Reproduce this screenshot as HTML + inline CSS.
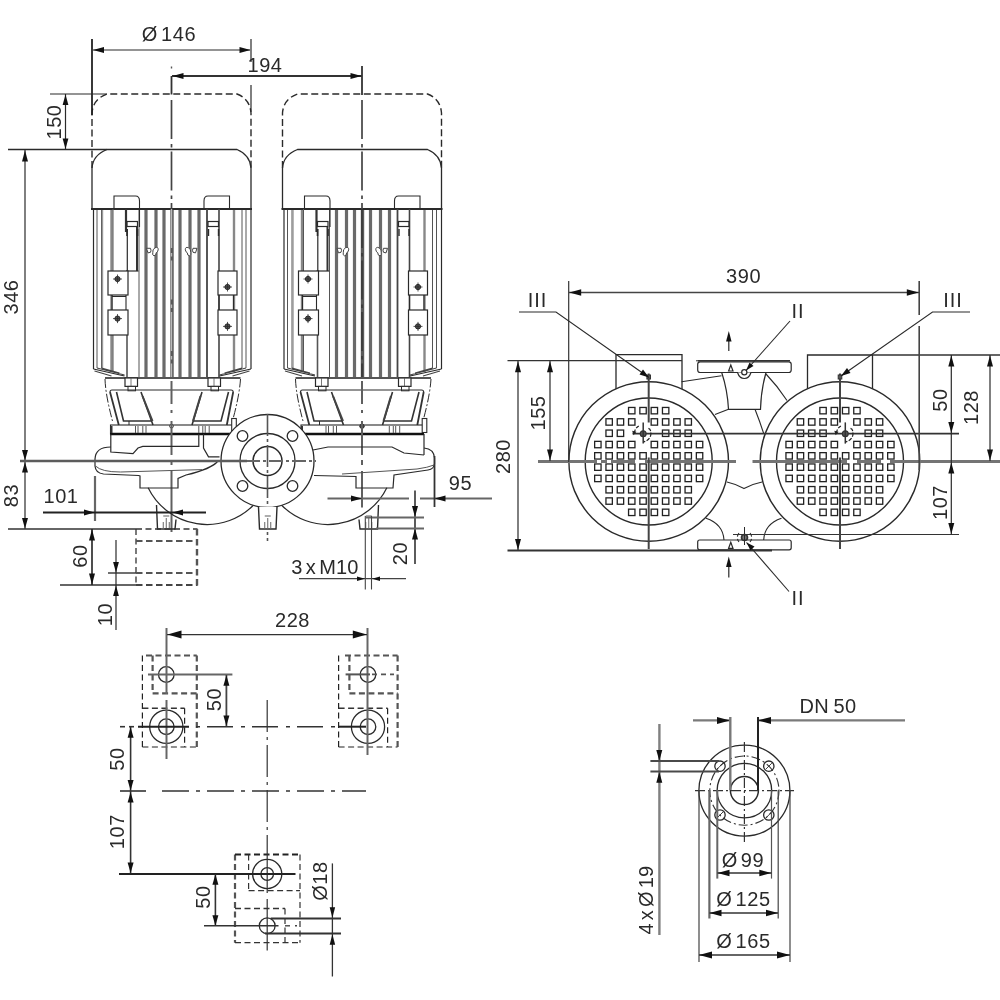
<!DOCTYPE html>
<html><head><meta charset="utf-8"><title>Pump dimension drawing</title>
<style>
html,body{margin:0;padding:0;background:#fff;}
body{width:1000px;height:1000px;overflow:hidden;font-family:"Liberation Sans",sans-serif;}
svg{display:block;will-change:transform;}
svg text{font-family:"Liberation Sans",sans-serif;}
</style></head><body>
<svg width="1000" height="1000" viewBox="0 0 1000 1000">
<rect x="0" y="0" width="1000" height="1000" fill="#fff"/>
<g id="front">
<path d="M92.0,168 L92.0,113 Q93.0,99 107.0,94 L237.0,94 Q250.0,99 251.0,113 L251.0,168" stroke="#2a2a2a" stroke-width="1.4" fill="none" stroke-dasharray="7,3.5"/>
<path d="M92.0,209 L92.0,168 Q93.0,155 107.0,149.5 L237.0,149.5 Q250.0,155 251.0,168 L251.0,209" stroke="#2a2a2a" stroke-width="1.3" fill="none"/>
<line x1="91.0" y1="209" x2="252.0" y2="209" stroke="#2a2a2a" stroke-width="1.8"/>
<path d="M114.0,209 L114.0,196 L135.5,196 Q139.5,196 139.5,201 L139.5,209" stroke="#2a2a2a" stroke-width="1.1" fill="none"/>
<path d="M229.5,209 L229.5,196 L208.0,196 Q204.0,196 204.0,201 L204.0,209" stroke="#2a2a2a" stroke-width="1.1" fill="none"/>
<line x1="93.5" y1="209" x2="93.5" y2="369" stroke="#2a2a2a" stroke-width="1.2"/>
<line x1="251.0" y1="209" x2="251.0" y2="369" stroke="#2a2a2a" stroke-width="1.2"/>
<line x1="97.0" y1="210" x2="97.0" y2="368" stroke="#555" stroke-width="1"/>
<line x1="101.5" y1="210" x2="101.5" y2="368" stroke="#555" stroke-width="1"/>
<line x1="246.0" y1="210" x2="246.0" y2="368" stroke="#555" stroke-width="1"/>
<line x1="242.0" y1="210" x2="242.0" y2="368" stroke="#555" stroke-width="1"/>
<line x1="111.5" y1="210" x2="111.5" y2="372" stroke="#888" stroke-width="2.4"/>
<line x1="234.0" y1="210" x2="234.0" y2="372" stroke="#888" stroke-width="2.4"/>
<line x1="102.5" y1="210" x2="102.5" y2="368" stroke="#999" stroke-width="1.4"/>
<line x1="146.0" y1="210" x2="146.0" y2="377" stroke="#6a6a6a" stroke-width="3.2"/>
<line x1="156.0" y1="210" x2="156.0" y2="377" stroke="#6a6a6a" stroke-width="3.2"/>
<line x1="164.0" y1="210" x2="164.0" y2="377" stroke="#6a6a6a" stroke-width="3.2"/>
<line x1="180.0" y1="210" x2="180.0" y2="377" stroke="#6a6a6a" stroke-width="3.2"/>
<line x1="190.0" y1="210" x2="190.0" y2="377" stroke="#6a6a6a" stroke-width="3.2"/>
<line x1="199.0" y1="210" x2="199.0" y2="377" stroke="#6a6a6a" stroke-width="3.2"/>
<line x1="172.0" y1="210" x2="172.0" y2="377" stroke="#5a5a5a" stroke-width="3.4"/>
<line x1="139.0" y1="210" x2="139.0" y2="377" stroke="#555" stroke-width="1"/>
<line x1="126.0" y1="209" x2="126.0" y2="232" stroke="#333" stroke-width="2.2"/>
<line x1="127.3" y1="229" x2="127.3" y2="271" stroke="#2a2a2a" stroke-width="1.2"/>
<line x1="139.5" y1="209" x2="139.5" y2="227" stroke="#2a2a2a" stroke-width="1.1"/>
<line x1="137.0" y1="227" x2="137.0" y2="271" stroke="#333" stroke-width="2"/>
<line x1="126.0" y1="271" x2="138.5" y2="271" stroke="#2a2a2a" stroke-width="1.2"/>
<rect x="127.0" y="221.5" width="10.5" height="5" rx="0" stroke="#2a2a2a" stroke-width="1.2" fill="none"/>
<line x1="127.0" y1="229" x2="127.0" y2="236" stroke="#2a2a2a" stroke-width="1.6"/>
<line x1="137.5" y1="229" x2="137.5" y2="236" stroke="#2a2a2a" stroke-width="1.6"/>
<line x1="127.0" y1="335" x2="127.0" y2="377" stroke="#555" stroke-width="1.6"/>
<line x1="113.0" y1="335" x2="113.0" y2="372" stroke="#555" stroke-width="1"/>
<line x1="113.0" y1="209" x2="113.0" y2="271" stroke="#555" stroke-width="1"/>
<line x1="207.0" y1="209" x2="207.0" y2="377" stroke="#444" stroke-width="1.8"/>
<line x1="219.0" y1="209" x2="219.0" y2="377" stroke="#444" stroke-width="1.6"/>
<rect x="208.0" y="221.5" width="10.5" height="5" rx="0" stroke="#2a2a2a" stroke-width="1.2" fill="none"/>
<line x1="208.5" y1="229" x2="208.5" y2="236" stroke="#2a2a2a" stroke-width="1.4"/>
<line x1="218.5" y1="229" x2="218.5" y2="236" stroke="#2a2a2a" stroke-width="1.4"/>
<rect x="108.0" y="271" width="20" height="24" rx="0" stroke="#2a2a2a" stroke-width="1.2" fill="#fff"/>
<circle cx="117.5" cy="279" r="2.6" stroke="#2a2a2a" stroke-width="1" fill="#555"/>
<line x1="113.0" y1="279" x2="122.0" y2="279" stroke="#2a2a2a" stroke-width="0.8"/>
<line x1="117.5" y1="274.5" x2="117.5" y2="283.5" stroke="#2a2a2a" stroke-width="0.8"/>
<rect x="108.0" y="310" width="20" height="25" rx="0" stroke="#2a2a2a" stroke-width="1.2" fill="#fff"/>
<circle cx="117.5" cy="318.6" r="2.6" stroke="#2a2a2a" stroke-width="1" fill="#555"/>
<line x1="113.0" y1="318.6" x2="122.0" y2="318.6" stroke="#2a2a2a" stroke-width="0.8"/>
<line x1="117.5" y1="314.1" x2="117.5" y2="323.1" stroke="#2a2a2a" stroke-width="0.8"/>
<path d="M112.0,295 L112.0,310 M126.0,295 L126.0,310 M112.0,296.5 L126.0,296.5" stroke="#2a2a2a" stroke-width="1.1" fill="none"/>
<rect x="218.0" y="271" width="19" height="24" rx="0" stroke="#2a2a2a" stroke-width="1.2" fill="#fff"/>
<circle cx="227.5" cy="287" r="2.6" stroke="#2a2a2a" stroke-width="1" fill="#555"/>
<line x1="223.0" y1="287" x2="232.0" y2="287" stroke="#2a2a2a" stroke-width="0.8"/>
<line x1="227.5" y1="282.5" x2="227.5" y2="291.5" stroke="#2a2a2a" stroke-width="0.8"/>
<rect x="218.0" y="310" width="19" height="25" rx="0" stroke="#2a2a2a" stroke-width="1.2" fill="#fff"/>
<circle cx="227.5" cy="326.4" r="2.6" stroke="#2a2a2a" stroke-width="1" fill="#555"/>
<line x1="223.0" y1="326.4" x2="232.0" y2="326.4" stroke="#2a2a2a" stroke-width="0.8"/>
<line x1="227.5" y1="321.9" x2="227.5" y2="330.9" stroke="#2a2a2a" stroke-width="0.8"/>
<path d="M219.0,295 L219.0,310 M233.5,295 L233.5,310" stroke="#2a2a2a" stroke-width="1.1" fill="none"/>
<path d="M146.5,248.3 l4,0 q1,2 0,4 l-2.5,0.6 Z" stroke="#444" stroke-width="1" fill="#fff"/>
<path d="M155.0,247.8 q3.2,-1.5 3.2,2 q-0.5,2.5 -2,3 q0,3 -2.2,3 q-2,-0.5 -1.2,-3.5 q-0.5,-3 2.2,-4.5 Z" stroke="#444" stroke-width="1" fill="#fff"/>
<path d="M197.0,248.3 l-4,0 q-1,2 0,4 l2.5,0.6 Z" stroke="#444" stroke-width="1" fill="#fff"/>
<path d="M188.5,247.8 q-3.2,-1.5 -3.2,2 q0.5,2.5 2,3 q0,3 2.2,3 q2,-0.5 1.2,-3.5 q0.5,-3 -2.2,-4.5 Z" stroke="#444" stroke-width="1" fill="#fff"/>
<path d="M93.5,369 L124.5,376 M251.0,369 L219.5,376" stroke="#2a2a2a" stroke-width="1.2" fill="none"/>
<path d="M97.0,368 L124.5,375 M101.5,368 L119.5,373 M94.5,371 L111.5,376 M246.0,368 L219.5,375 M242.0,368 L224.5,373 M249.5,371 L232.5,376" stroke="#444" stroke-width="1.1" fill="none"/>
<line x1="105.0" y1="378" x2="240.5" y2="378" stroke="#555" stroke-width="2"/>
<rect x="125.0" y="378" width="12.5" height="8.4" rx="0" stroke="#2a2a2a" stroke-width="1.2" fill="#fff"/>
<line x1="131.0" y1="378" x2="131.0" y2="386" stroke="#555" stroke-width="0.8"/>
<rect x="128.0" y="386.4" width="7.5" height="4.4" rx="0" stroke="#2a2a2a" stroke-width="1" fill="#fff"/>
<rect x="208.0" y="378" width="12.5" height="8.4" rx="0" stroke="#2a2a2a" stroke-width="1.2" fill="#fff"/>
<line x1="214.0" y1="378" x2="214.0" y2="386" stroke="#555" stroke-width="0.8"/>
<rect x="211.0" y="386.4" width="7.5" height="4.4" rx="0" stroke="#2a2a2a" stroke-width="1" fill="#fff"/>
<path d="M110.0,392 Q110.0,390 112.0,390 L231.0,390 Q233.2,390 233.2,392" stroke="#2a2a2a" stroke-width="1.1" fill="none"/>
<path d="M110.0,392 L118.8,425 M233.2,392 L226.8,425" stroke="#333" stroke-width="1.8" fill="none"/>
<path d="M105.0,379 Q105.5,395 112.5,421" stroke="#2a2a2a" stroke-width="1" fill="none" stroke-dasharray="9,2,2,2"/>
<path d="M240.5,379 Q239.5,395 233.0,419" stroke="#2a2a2a" stroke-width="1" fill="none" stroke-dasharray="9,2,2,2"/>
<path d="M116.5,392 L123.5,421 L151.5,421 M141.0,392 L153.0,425" stroke="#333" stroke-width="1.6" fill="none"/>
<path d="M142.5,396 L152.5,421" stroke="#444" stroke-width="2" fill="none"/>
<path d="M129.0,421 L129.0,425" stroke="#2a2a2a" stroke-width="1" fill="none"/>
<path d="M228.5,392 L221.0,421 L193.0,421 M202.0,392 L192.0,425" stroke="#333" stroke-width="1.6" fill="none"/>
<path d="M200.5,396 L193.0,421" stroke="#444" stroke-width="2" fill="none"/>
<rect x="110.5" y="425" width="122.5" height="9" rx="0" stroke="#2a2a2a" stroke-width="1.1" fill="none"/>
<line x1="110.0" y1="434" x2="233.5" y2="434" stroke="#111" stroke-width="2.6"/>
<line x1="111.5" y1="426" x2="111.5" y2="433" stroke="#333" stroke-width="2"/>
<line x1="135.5" y1="426" x2="135.5" y2="433" stroke="#555" stroke-width="1"/>
<line x1="138.0" y1="426" x2="138.0" y2="433" stroke="#555" stroke-width="1"/>
<line x1="142.8" y1="426" x2="142.8" y2="433" stroke="#555" stroke-width="1"/>
<line x1="146.0" y1="426" x2="146.0" y2="433" stroke="#555" stroke-width="1"/>
<line x1="198.8" y1="426" x2="198.8" y2="433" stroke="#555" stroke-width="1"/>
<line x1="202.8" y1="426" x2="202.8" y2="433" stroke="#555" stroke-width="1"/>
<line x1="205.2" y1="426" x2="205.2" y2="433" stroke="#555" stroke-width="1"/>
<line x1="209.2" y1="426" x2="209.2" y2="433" stroke="#555" stroke-width="1"/>
<circle cx="171.5" cy="426.2" r="1.8" stroke="#2a2a2a" stroke-width="1" fill="#fff"/>
<rect x="231.7" y="418.5" width="4.6" height="14" rx="0" stroke="#2a2a2a" stroke-width="1.1" fill="#fff"/>
<path d="M282.5,168 L282.5,113 Q283.5,99 297.5,94 L427.5,94 Q440.5,99 441.5,113 L441.5,168" stroke="#2a2a2a" stroke-width="1.4" fill="none" stroke-dasharray="7,3.5"/>
<path d="M282.5,209 L282.5,168 Q283.5,155 297.5,149.5 L427.5,149.5 Q440.5,155 441.5,168 L441.5,209" stroke="#2a2a2a" stroke-width="1.3" fill="none"/>
<line x1="281.5" y1="209" x2="442.5" y2="209" stroke="#2a2a2a" stroke-width="1.8"/>
<path d="M304.5,209 L304.5,196 L326.0,196 Q330.0,196 330.0,201 L330.0,209" stroke="#2a2a2a" stroke-width="1.1" fill="none"/>
<path d="M420.0,209 L420.0,196 L398.5,196 Q394.5,196 394.5,201 L394.5,209" stroke="#2a2a2a" stroke-width="1.1" fill="none"/>
<line x1="284.0" y1="209" x2="284.0" y2="369" stroke="#2a2a2a" stroke-width="1.2"/>
<line x1="441.5" y1="209" x2="441.5" y2="369" stroke="#2a2a2a" stroke-width="1.2"/>
<line x1="287.5" y1="210" x2="287.5" y2="368" stroke="#555" stroke-width="1"/>
<line x1="292.0" y1="210" x2="292.0" y2="368" stroke="#555" stroke-width="1"/>
<line x1="436.5" y1="210" x2="436.5" y2="368" stroke="#555" stroke-width="1"/>
<line x1="432.5" y1="210" x2="432.5" y2="368" stroke="#555" stroke-width="1"/>
<line x1="302.0" y1="210" x2="302.0" y2="372" stroke="#888" stroke-width="2.4"/>
<line x1="424.5" y1="210" x2="424.5" y2="372" stroke="#888" stroke-width="2.4"/>
<line x1="293.0" y1="210" x2="293.0" y2="368" stroke="#999" stroke-width="1.4"/>
<line x1="336.5" y1="210" x2="336.5" y2="377" stroke="#6a6a6a" stroke-width="3.2"/>
<line x1="346.5" y1="210" x2="346.5" y2="377" stroke="#6a6a6a" stroke-width="3.2"/>
<line x1="354.5" y1="210" x2="354.5" y2="377" stroke="#6a6a6a" stroke-width="3.2"/>
<line x1="370.5" y1="210" x2="370.5" y2="377" stroke="#6a6a6a" stroke-width="3.2"/>
<line x1="380.5" y1="210" x2="380.5" y2="377" stroke="#6a6a6a" stroke-width="3.2"/>
<line x1="389.5" y1="210" x2="389.5" y2="377" stroke="#6a6a6a" stroke-width="3.2"/>
<line x1="362.5" y1="210" x2="362.5" y2="377" stroke="#5a5a5a" stroke-width="3.4"/>
<line x1="329.5" y1="210" x2="329.5" y2="377" stroke="#555" stroke-width="1"/>
<line x1="316.5" y1="209" x2="316.5" y2="232" stroke="#333" stroke-width="2.2"/>
<line x1="317.8" y1="229" x2="317.8" y2="271" stroke="#2a2a2a" stroke-width="1.2"/>
<line x1="330.0" y1="209" x2="330.0" y2="227" stroke="#2a2a2a" stroke-width="1.1"/>
<line x1="327.5" y1="227" x2="327.5" y2="271" stroke="#333" stroke-width="2"/>
<line x1="316.5" y1="271" x2="329.0" y2="271" stroke="#2a2a2a" stroke-width="1.2"/>
<rect x="317.5" y="221.5" width="10.5" height="5" rx="0" stroke="#2a2a2a" stroke-width="1.2" fill="none"/>
<line x1="317.5" y1="229" x2="317.5" y2="236" stroke="#2a2a2a" stroke-width="1.6"/>
<line x1="328.0" y1="229" x2="328.0" y2="236" stroke="#2a2a2a" stroke-width="1.6"/>
<line x1="317.5" y1="335" x2="317.5" y2="377" stroke="#555" stroke-width="1.6"/>
<line x1="303.5" y1="335" x2="303.5" y2="372" stroke="#555" stroke-width="1"/>
<line x1="303.5" y1="209" x2="303.5" y2="271" stroke="#555" stroke-width="1"/>
<line x1="397.5" y1="209" x2="397.5" y2="377" stroke="#444" stroke-width="1.8"/>
<line x1="409.5" y1="209" x2="409.5" y2="377" stroke="#444" stroke-width="1.6"/>
<rect x="398.5" y="221.5" width="10.5" height="5" rx="0" stroke="#2a2a2a" stroke-width="1.2" fill="none"/>
<line x1="399.0" y1="229" x2="399.0" y2="236" stroke="#2a2a2a" stroke-width="1.4"/>
<line x1="409.0" y1="229" x2="409.0" y2="236" stroke="#2a2a2a" stroke-width="1.4"/>
<rect x="298.5" y="271" width="20" height="24" rx="0" stroke="#2a2a2a" stroke-width="1.2" fill="#fff"/>
<circle cx="308.0" cy="279" r="2.6" stroke="#2a2a2a" stroke-width="1" fill="#555"/>
<line x1="303.5" y1="279" x2="312.5" y2="279" stroke="#2a2a2a" stroke-width="0.8"/>
<line x1="308.0" y1="274.5" x2="308.0" y2="283.5" stroke="#2a2a2a" stroke-width="0.8"/>
<rect x="298.5" y="310" width="20" height="25" rx="0" stroke="#2a2a2a" stroke-width="1.2" fill="#fff"/>
<circle cx="308.0" cy="318.6" r="2.6" stroke="#2a2a2a" stroke-width="1" fill="#555"/>
<line x1="303.5" y1="318.6" x2="312.5" y2="318.6" stroke="#2a2a2a" stroke-width="0.8"/>
<line x1="308.0" y1="314.1" x2="308.0" y2="323.1" stroke="#2a2a2a" stroke-width="0.8"/>
<path d="M302.5,295 L302.5,310 M316.5,295 L316.5,310 M302.5,296.5 L316.5,296.5" stroke="#2a2a2a" stroke-width="1.1" fill="none"/>
<rect x="408.5" y="271" width="19" height="24" rx="0" stroke="#2a2a2a" stroke-width="1.2" fill="#fff"/>
<circle cx="418.0" cy="287" r="2.6" stroke="#2a2a2a" stroke-width="1" fill="#555"/>
<line x1="413.5" y1="287" x2="422.5" y2="287" stroke="#2a2a2a" stroke-width="0.8"/>
<line x1="418.0" y1="282.5" x2="418.0" y2="291.5" stroke="#2a2a2a" stroke-width="0.8"/>
<rect x="408.5" y="310" width="19" height="25" rx="0" stroke="#2a2a2a" stroke-width="1.2" fill="#fff"/>
<circle cx="418.0" cy="326.4" r="2.6" stroke="#2a2a2a" stroke-width="1" fill="#555"/>
<line x1="413.5" y1="326.4" x2="422.5" y2="326.4" stroke="#2a2a2a" stroke-width="0.8"/>
<line x1="418.0" y1="321.9" x2="418.0" y2="330.9" stroke="#2a2a2a" stroke-width="0.8"/>
<path d="M409.5,295 L409.5,310 M424.0,295 L424.0,310" stroke="#2a2a2a" stroke-width="1.1" fill="none"/>
<path d="M337.0,248.3 l4,0 q1,2 0,4 l-2.5,0.6 Z" stroke="#444" stroke-width="1" fill="#fff"/>
<path d="M345.5,247.8 q3.2,-1.5 3.2,2 q-0.5,2.5 -2,3 q0,3 -2.2,3 q-2,-0.5 -1.2,-3.5 q-0.5,-3 2.2,-4.5 Z" stroke="#444" stroke-width="1" fill="#fff"/>
<path d="M387.5,248.3 l-4,0 q-1,2 0,4 l2.5,0.6 Z" stroke="#444" stroke-width="1" fill="#fff"/>
<path d="M379.0,247.8 q-3.2,-1.5 -3.2,2 q0.5,2.5 2,3 q0,3 2.2,3 q2,-0.5 1.2,-3.5 q0.5,-3 -2.2,-4.5 Z" stroke="#444" stroke-width="1" fill="#fff"/>
<path d="M284.0,369 L315.0,376 M441.5,369 L410.0,376" stroke="#2a2a2a" stroke-width="1.2" fill="none"/>
<path d="M287.5,368 L315.0,375 M292.0,368 L310.0,373 M285.0,371 L302.0,376 M436.5,368 L410.0,375 M432.5,368 L415.0,373 M440.0,371 L423.0,376" stroke="#444" stroke-width="1.1" fill="none"/>
<line x1="295.5" y1="378" x2="431.0" y2="378" stroke="#555" stroke-width="2"/>
<rect x="315.5" y="378" width="12.5" height="8.4" rx="0" stroke="#2a2a2a" stroke-width="1.2" fill="#fff"/>
<line x1="321.5" y1="378" x2="321.5" y2="386" stroke="#555" stroke-width="0.8"/>
<rect x="318.5" y="386.4" width="7.5" height="4.4" rx="0" stroke="#2a2a2a" stroke-width="1" fill="#fff"/>
<rect x="398.5" y="378" width="12.5" height="8.4" rx="0" stroke="#2a2a2a" stroke-width="1.2" fill="#fff"/>
<line x1="404.5" y1="378" x2="404.5" y2="386" stroke="#555" stroke-width="0.8"/>
<rect x="401.5" y="386.4" width="7.5" height="4.4" rx="0" stroke="#2a2a2a" stroke-width="1" fill="#fff"/>
<path d="M300.5,392 Q300.5,390 302.5,390 L421.5,390 Q423.7,390 423.7,392" stroke="#2a2a2a" stroke-width="1.1" fill="none"/>
<path d="M300.5,392 L309.3,425 M423.7,392 L417.3,425" stroke="#333" stroke-width="1.8" fill="none"/>
<path d="M295.5,379 Q296.0,395 303.0,421" stroke="#2a2a2a" stroke-width="1" fill="none" stroke-dasharray="9,2,2,2"/>
<path d="M431.0,379 Q430.0,395 423.5,419" stroke="#2a2a2a" stroke-width="1" fill="none" stroke-dasharray="9,2,2,2"/>
<path d="M307.0,392 L314.0,421 L342.0,421 M331.5,392 L343.5,425" stroke="#333" stroke-width="1.6" fill="none"/>
<path d="M333.0,396 L343.0,421" stroke="#444" stroke-width="2" fill="none"/>
<path d="M319.5,421 L319.5,425" stroke="#2a2a2a" stroke-width="1" fill="none"/>
<path d="M419.0,392 L411.5,421 L383.5,421 M392.5,392 L382.5,425" stroke="#333" stroke-width="1.6" fill="none"/>
<path d="M391.0,396 L383.5,421" stroke="#444" stroke-width="2" fill="none"/>
<rect x="301.0" y="425" width="122.5" height="9" rx="0" stroke="#2a2a2a" stroke-width="1.1" fill="none"/>
<line x1="300.5" y1="434" x2="424.0" y2="434" stroke="#111" stroke-width="2.6"/>
<line x1="302.0" y1="426" x2="302.0" y2="433" stroke="#333" stroke-width="2"/>
<line x1="326.0" y1="426" x2="326.0" y2="433" stroke="#555" stroke-width="1"/>
<line x1="328.5" y1="426" x2="328.5" y2="433" stroke="#555" stroke-width="1"/>
<line x1="333.3" y1="426" x2="333.3" y2="433" stroke="#555" stroke-width="1"/>
<line x1="336.5" y1="426" x2="336.5" y2="433" stroke="#555" stroke-width="1"/>
<line x1="389.3" y1="426" x2="389.3" y2="433" stroke="#555" stroke-width="1"/>
<line x1="393.3" y1="426" x2="393.3" y2="433" stroke="#555" stroke-width="1"/>
<line x1="395.7" y1="426" x2="395.7" y2="433" stroke="#555" stroke-width="1"/>
<line x1="399.7" y1="426" x2="399.7" y2="433" stroke="#555" stroke-width="1"/>
<circle cx="362.0" cy="426.2" r="1.8" stroke="#2a2a2a" stroke-width="1" fill="#fff"/>
<rect x="422.2" y="418.5" width="4.6" height="14" rx="0" stroke="#2a2a2a" stroke-width="1.1" fill="#fff"/>
<circle cx="362.0" cy="426.2" r="2.2" stroke="#333" stroke-width="1" fill="#444"/>
<line x1="171.5" y1="100" x2="171.5" y2="209" stroke="#444" stroke-width="1.7" stroke-dasharray="39,5,3.5,4"/>
<line x1="171.5" y1="209" x2="171.5" y2="377" stroke="#bbb" stroke-width="1.4" stroke-dasharray="39,5,3.5,4"/>
<line x1="171.5" y1="381" x2="171.5" y2="404" stroke="#606060" stroke-width="2"/>
<line x1="171.5" y1="410" x2="171.5" y2="413" stroke="#606060" stroke-width="2"/>
<line x1="171.5" y1="421" x2="171.5" y2="455" stroke="#606060" stroke-width="2"/>
<line x1="171.5" y1="460" x2="171.5" y2="465" stroke="#606060" stroke-width="2"/>
<line x1="171.5" y1="471" x2="171.5" y2="532" stroke="#606060" stroke-width="2"/>
<line x1="362.0" y1="100" x2="362.0" y2="209" stroke="#444" stroke-width="1.7" stroke-dasharray="39,5,3.5,4"/>
<line x1="362.0" y1="209" x2="362.0" y2="377" stroke="#333" stroke-width="1.4" stroke-dasharray="39,5,3.5,4"/>
<line x1="362.0" y1="381" x2="362.0" y2="404" stroke="#606060" stroke-width="2"/>
<line x1="362.0" y1="410" x2="362.0" y2="413" stroke="#606060" stroke-width="2"/>
<line x1="362.0" y1="421" x2="362.0" y2="455" stroke="#606060" stroke-width="2"/>
<line x1="362.0" y1="460" x2="362.0" y2="465" stroke="#606060" stroke-width="2"/>
<line x1="362.0" y1="471" x2="362.0" y2="507.5" stroke="#606060" stroke-width="2"/>
<path d="M110.8,434 L110.8,452 L133.0,453.6 L138.0,448 L142.8,446.4 L198.8,446.4 L198.8,434" stroke="#2a2a2a" stroke-width="1.2" fill="none"/>
<path d="M203.5,434 L203.5,448 L208.5,456.8 L219.5,456.8" stroke="#2a2a2a" stroke-width="1.2" fill="none"/>
<path d="M110.8,447 Q95.5,447 95.0,459 L95.0,466 Q95.5,473 103.5,474 L138.5,475.5 L140.0,476 L140.0,488 L178.0,488 L178.0,478.5 L186.0,475 Q211.5,469 218.0,461" stroke="#2a2a2a" stroke-width="1.2" fill="none"/>
<path d="M95.5,466 Q101.5,472 120.5,472 L202.0,469.6" stroke="#555" stroke-width="1" fill="none"/>
<path d="M424.0,434 L424.0,455" stroke="#2a2a2a" stroke-width="1.2" fill="none"/>
<path d="M313.0,450 L328.0,447 L392.0,447 L404.0,453 L424.0,455" stroke="#2a2a2a" stroke-width="1.2" fill="none"/>
<path d="M424.0,448 Q434.0,449 434.5,458 L434.5,464 Q434.0,469 428.0,470 L394.0,475 L393.0,488 L356.0,488 L356.0,476.5 L314.0,475.5" stroke="#2a2a2a" stroke-width="1.2" fill="none"/>
<path d="M434.0,465 Q428.0,467.5 417.0,469 L342.0,474" stroke="#555" stroke-width="1" fill="none"/>
<line x1="301.5" y1="434" x2="301.5" y2="447" stroke="#2a2a2a" stroke-width="1.2"/>
<path d="M148.13,487.71 A65.5,65.5 0 0 0 254.12,504.50" stroke="#2a2a2a" stroke-width="1.2" fill="none"/>
<path d="M386.87,487.71 A65.5,65.5 0 0 1 280.88,504.50" stroke="#2a2a2a" stroke-width="1.2" fill="none"/>
<circle cx="267.5" cy="461" r="46.5" stroke="#2a2a2a" stroke-width="1.3" fill="#fff"/>
<circle cx="267.5" cy="461" r="27.5" stroke="#2a2a2a" stroke-width="1.3" fill="none"/>
<circle cx="267.5" cy="461" r="14.5" stroke="#2a2a2a" stroke-width="1.5" fill="none"/>
<circle cx="242.5" cy="436" r="5.3" stroke="#2a2a2a" stroke-width="1.3" fill="none"/>
<circle cx="242.5" cy="486" r="5.3" stroke="#2a2a2a" stroke-width="1.3" fill="none"/>
<circle cx="292.5" cy="436" r="5.3" stroke="#2a2a2a" stroke-width="1.3" fill="none"/>
<circle cx="292.5" cy="486" r="5.3" stroke="#2a2a2a" stroke-width="1.3" fill="none"/>
<line x1="267.5" y1="414" x2="267.5" y2="541" stroke="#555" stroke-width="1.6" stroke-dasharray="22,3,3,3"/>
<line x1="246" y1="461" x2="316" y2="461" stroke="#666" stroke-width="2.2" stroke-dasharray="14,3,3,3"/>
<path d="M156.5,505 L157.5,529 L175,529 L176,519.5" stroke="#2a2a2a" stroke-width="1.4" fill="none"/>
<path d="M163.25,529 L163.25,522 M166.25,529 L166.25,518 M169.25,529 L169.25,522" stroke="#666" stroke-width="1" fill="none"/>
<line x1="163.25" y1="516" x2="169.25" y2="516" stroke="#777" stroke-width="1.2"/>
<path d="M258.5,507 L259.5,529 L276,529 L277,507" stroke="#2a2a2a" stroke-width="1.4" fill="#fff"/>
<path d="M264.75,529 L264.75,522 M267.75,529 L267.75,518 M270.75,529 L270.75,522" stroke="#666" stroke-width="1" fill="none"/>
<line x1="264.75" y1="516" x2="270.75" y2="516" stroke="#777" stroke-width="1.2"/>
<path d="M359,519.5 L360,529 L377.5,529 L378.5,505" stroke="#2a2a2a" stroke-width="1.4" fill="none"/>
<path d="M365.75,529 L365.75,522 M368.75,529 L368.75,518 M371.75,529 L371.75,522" stroke="#666" stroke-width="1" fill="none"/>
<line x1="365.75" y1="516" x2="371.75" y2="516" stroke="#777" stroke-width="1.2"/>
<line x1="92" y1="39" x2="92" y2="115" stroke="#222" stroke-width="1.8"/>
<line x1="251" y1="39" x2="251" y2="62" stroke="#2a2a2a" stroke-width="1.2"/>
<line x1="251" y1="85" x2="251" y2="112" stroke="#2a2a2a" stroke-width="1.2"/>
<line x1="93" y1="50" x2="250" y2="50" stroke="#2a2a2a" stroke-width="1.2"/>
<polygon points="93,50 104,47.0 104,53.0" fill="#111"/>
<polygon points="250.5,50 239.5,47.0 239.5,53.0" fill="#111"/>
<text x="169" y="40.5" font-size="20" text-anchor="middle" letter-spacing="0.6" word-spacing="-3.2" fill="#2a2a2a">Ø 146</text>
<line x1="171.5" y1="76" x2="171.5" y2="94.5" stroke="#333" stroke-width="1.8"/>
<line x1="171.5" y1="66.5" x2="171.5" y2="68.5" stroke="#555" stroke-width="1.4"/>
<line x1="172" y1="76" x2="362" y2="76" stroke="#333" stroke-width="1.9"/>
<polygon points="172.5,76 183.5,73.0 183.5,79.0" fill="#111"/>
<polygon points="361.5,76 350.5,73.0 350.5,79.0" fill="#111"/>
<line x1="362" y1="66" x2="362" y2="95" stroke="#333" stroke-width="1.8"/>
<text x="265" y="71.5" font-size="20" text-anchor="middle" letter-spacing="0.6" word-spacing="0" fill="#2a2a2a">194</text>
<line x1="50" y1="94" x2="107" y2="94" stroke="#2a2a2a" stroke-width="1.2"/>
<line x1="65.5" y1="94" x2="65.5" y2="149.5" stroke="#2a2a2a" stroke-width="1.2"/>
<polygon points="65.5,94.5 62.6,105.0 68.4,105.0" fill="#111"/>
<polygon points="65.5,149 62.6,138.5 68.4,138.5" fill="#111"/>
<text x="60.5" y="122" font-size="20" text-anchor="middle" letter-spacing="0.6" word-spacing="0" fill="#2a2a2a" transform="rotate(-90 60.5 122)">150</text>
<line x1="8" y1="149.5" x2="107" y2="149.5" stroke="#2a2a2a" stroke-width="1.3"/>
<line x1="25" y1="150" x2="25" y2="529" stroke="#2a2a2a" stroke-width="1.2"/>
<polygon points="25,150.5 22.0,161.5 28.0,161.5" fill="#111"/>
<polygon points="25,460.5 22.0,450.0 28.0,450.0" fill="#111"/>
<polygon points="25,462 22.0,472.5 28.0,472.5" fill="#111"/>
<polygon points="25,528.5 22.0,518.0 28.0,518.0" fill="#111"/>
<text x="18" y="297" font-size="20" text-anchor="middle" letter-spacing="0.6" word-spacing="0" fill="#2a2a2a" transform="rotate(-90 18 297)">346</text>
<text x="18" y="495.5" font-size="20" text-anchor="middle" letter-spacing="0.6" word-spacing="0" fill="#2a2a2a" transform="rotate(-90 18 495.5)">83</text>
<line x1="20" y1="461" x2="247" y2="461" stroke="#5c5c5c" stroke-width="2.4"/>
<line x1="8" y1="529" x2="136" y2="529" stroke="#333" stroke-width="1.6"/>
<line x1="95" y1="476" x2="95" y2="521" stroke="#666" stroke-width="2.2"/>
<line x1="43" y1="512.5" x2="206" y2="512.5" stroke="#222" stroke-width="2"/>
<polygon points="94.5,512.5 84.0,509.6 84.0,515.4" fill="#111"/>
<polygon points="172.5,512.5 183.0,509.6 183.0,515.4" fill="#111"/>
<text x="61" y="503" font-size="20" text-anchor="middle" letter-spacing="0.6" word-spacing="0" fill="#2a2a2a">101</text>
<line x1="136" y1="529" x2="197.5" y2="529" stroke="#333" stroke-width="1.3" stroke-dasharray="6,3.5"/>
<line x1="136" y1="529" x2="136" y2="585" stroke="#333" stroke-width="1.3" stroke-dasharray="6,3.5"/>
<line x1="136" y1="541" x2="197.5" y2="541" stroke="#555" stroke-width="1.8" stroke-dasharray="6.5,3.5"/>
<line x1="136" y1="573" x2="197.5" y2="573" stroke="#555" stroke-width="1.8" stroke-dasharray="6.5,3.5"/>
<line x1="136" y1="585" x2="197.5" y2="585" stroke="#444" stroke-width="2" stroke-dasharray="6.5,3.5"/>
<line x1="197" y1="529" x2="197" y2="586" stroke="#555" stroke-width="2.4" stroke-dasharray="6.5,3.5"/>
<line x1="60" y1="585" x2="136" y2="585" stroke="#333" stroke-width="1.6"/>
<line x1="92" y1="529" x2="92" y2="585" stroke="#222" stroke-width="1.6"/>
<polygon points="92,529.5 89.0,540.5 95.0,540.5" fill="#111"/>
<polygon points="92,584.5 89.0,573.5 95.0,573.5" fill="#111"/>
<text x="87" y="556" font-size="20" text-anchor="middle" letter-spacing="0.6" word-spacing="0" fill="#2a2a2a" transform="rotate(-90 87 556)">60</text>
<line x1="108" y1="573" x2="136" y2="573" stroke="#333" stroke-width="1.4"/>
<line x1="116" y1="540" x2="116" y2="630" stroke="#2a2a2a" stroke-width="1.2"/>
<polygon points="116,572.5 113.1,562.0 118.9,562.0" fill="#111"/>
<polygon points="116,585.5 113.1,596.0 118.9,596.0" fill="#111"/>
<text x="111.5" y="614.5" font-size="20" text-anchor="middle" letter-spacing="0.6" word-spacing="0" fill="#2a2a2a" transform="rotate(-90 111.5 614.5)">10</text>
<line x1="327.5" y1="498.5" x2="409" y2="498.5" stroke="#666" stroke-width="2.2"/>
<line x1="420" y1="498.5" x2="492" y2="498.5" stroke="#666" stroke-width="2.2"/>
<polygon points="362,498.5 351,495.5 351,501.5" fill="#111"/>
<polygon points="434.5,498.5 445.5,495.5 445.5,501.5" fill="#111"/>
<line x1="434.5" y1="456" x2="434.5" y2="507" stroke="#333" stroke-width="1.8"/>
<text x="460.5" y="489.5" font-size="20" text-anchor="middle" letter-spacing="0.6" word-spacing="0" fill="#2a2a2a">95</text>
<line x1="415" y1="490.5" x2="415" y2="564" stroke="#333" stroke-width="1.6"/>
<polygon points="415,517 412.0,506 418.0,506" fill="#111"/>
<polygon points="415,528.5 412.0,539.5 418.0,539.5" fill="#111"/>
<line x1="366" y1="517.5" x2="424" y2="517.5" stroke="#666" stroke-width="2"/>
<line x1="376" y1="528.5" x2="424" y2="528.5" stroke="#666" stroke-width="2"/>
<text x="407" y="553.5" font-size="20" text-anchor="middle" letter-spacing="0.6" word-spacing="0" fill="#2a2a2a" transform="rotate(-90 407 553.5)">20</text>
<line x1="365.3" y1="516" x2="365.3" y2="589.5" stroke="#444" stroke-width="1.1"/>
<line x1="371.5" y1="516" x2="371.5" y2="589.5" stroke="#444" stroke-width="1.1"/>
<line x1="299" y1="578.7" x2="406" y2="578.7" stroke="#444" stroke-width="1.2"/>
<polygon points="365,578.7 357,576.45 357,580.95" fill="#111"/>
<polygon points="372,578.7 380,576.45 380,580.95" fill="#111"/>
<text x="325" y="574" font-size="20" text-anchor="middle" letter-spacing="0.2" word-spacing="-2.6" fill="#2a2a2a">3 x M10</text>
</g>
<g id="top">
<path d="M616,400 L616,354.7 L682,354.7 L682,392" stroke="#2a2a2a" stroke-width="1.3" fill="none"/>
<path d="M807.5,395 L807.5,355 L872.5,355 L872.5,390" stroke="#2a2a2a" stroke-width="1.3" fill="none"/>
<path d="M721.7,372.5 Q727.5,390 728.5,409.3 L760.5,409.3 Q761,390 766,372.5" stroke="#2a2a2a" stroke-width="1.2" fill="none"/>
<path d="M715,414.5 L728.5,409.3" stroke="#2a2a2a" stroke-width="1.1" fill="none"/>
<path d="M681.5,381.7 L721.5,375.8" stroke="#2a2a2a" stroke-width="1.1" fill="none"/>
<path d="M766,374 Q777.5,386 787,400.5" stroke="#2a2a2a" stroke-width="1.1" fill="none"/>
<path d="M755,409.3 Q760,422 763.7,433.5" stroke="#2a2a2a" stroke-width="1.1" fill="none"/>
<path d="M727,482 Q736,484 744,488.5 Q752,484 762,482" stroke="#2a2a2a" stroke-width="1.1" fill="none"/>
<path d="M706,518.3 Q723,524 724,540" stroke="#2a2a2a" stroke-width="1.1" fill="none"/>
<path d="M781.5,518.3 Q764.5,524 763.7,540" stroke="#2a2a2a" stroke-width="1.1" fill="none"/>
<circle cx="648.7" cy="461.5" r="79.8" stroke="#2a2a2a" stroke-width="1.4" fill="#fff"/>
<circle cx="648.7" cy="461.5" r="63.5" stroke="#2a2a2a" stroke-width="1.4" fill="none"/>
<circle cx="840.0" cy="461.5" r="79.8" stroke="#2a2a2a" stroke-width="1.4" fill="#fff"/>
<circle cx="840.0" cy="461.5" r="63.5" stroke="#2a2a2a" stroke-width="1.4" fill="none"/>
<rect x="628.55" y="407.45" width="6.4" height="6.4" rx="0" stroke="#222" stroke-width="1.3" fill="#fff"/>
<rect x="639.85" y="407.45" width="6.4" height="6.4" rx="0" stroke="#222" stroke-width="1.3" fill="#fff"/>
<rect x="651.15" y="407.45" width="6.4" height="6.4" rx="0" stroke="#222" stroke-width="1.3" fill="#fff"/>
<rect x="662.45" y="407.45" width="6.4" height="6.4" rx="0" stroke="#222" stroke-width="1.3" fill="#fff"/>
<rect x="605.95" y="418.75" width="6.4" height="6.4" rx="0" stroke="#222" stroke-width="1.3" fill="#fff"/>
<rect x="617.25" y="418.75" width="6.4" height="6.4" rx="0" stroke="#222" stroke-width="1.3" fill="#fff"/>
<rect x="628.55" y="418.75" width="6.4" height="6.4" rx="0" stroke="#222" stroke-width="1.3" fill="#fff"/>
<rect x="651.15" y="418.75" width="6.4" height="6.4" rx="0" stroke="#222" stroke-width="1.3" fill="#fff"/>
<rect x="662.45" y="418.75" width="6.4" height="6.4" rx="0" stroke="#222" stroke-width="1.3" fill="#fff"/>
<rect x="673.75" y="418.75" width="6.4" height="6.4" rx="0" stroke="#222" stroke-width="1.3" fill="#fff"/>
<rect x="685.05" y="418.75" width="6.4" height="6.4" rx="0" stroke="#222" stroke-width="1.3" fill="#fff"/>
<rect x="605.95" y="430.05" width="6.4" height="6.4" rx="0" stroke="#222" stroke-width="1.3" fill="#fff"/>
<rect x="617.25" y="430.05" width="6.4" height="6.4" rx="0" stroke="#222" stroke-width="1.3" fill="#fff"/>
<rect x="662.45" y="430.05" width="6.4" height="6.4" rx="0" stroke="#222" stroke-width="1.3" fill="#fff"/>
<rect x="673.75" y="430.05" width="6.4" height="6.4" rx="0" stroke="#222" stroke-width="1.3" fill="#fff"/>
<rect x="685.05" y="430.05" width="6.4" height="6.4" rx="0" stroke="#222" stroke-width="1.3" fill="#fff"/>
<rect x="594.65" y="441.35" width="6.4" height="6.4" rx="0" stroke="#222" stroke-width="1.3" fill="#fff"/>
<rect x="605.95" y="441.35" width="6.4" height="6.4" rx="0" stroke="#222" stroke-width="1.3" fill="#fff"/>
<rect x="617.25" y="441.35" width="6.4" height="6.4" rx="0" stroke="#222" stroke-width="1.3" fill="#fff"/>
<rect x="628.55" y="441.35" width="6.4" height="6.4" rx="0" stroke="#222" stroke-width="1.3" fill="#fff"/>
<rect x="651.15" y="441.35" width="6.4" height="6.4" rx="0" stroke="#222" stroke-width="1.3" fill="#fff"/>
<rect x="662.45" y="441.35" width="6.4" height="6.4" rx="0" stroke="#222" stroke-width="1.3" fill="#fff"/>
<rect x="673.75" y="441.35" width="6.4" height="6.4" rx="0" stroke="#222" stroke-width="1.3" fill="#fff"/>
<rect x="685.05" y="441.35" width="6.4" height="6.4" rx="0" stroke="#222" stroke-width="1.3" fill="#fff"/>
<rect x="696.35" y="441.35" width="6.4" height="6.4" rx="0" stroke="#222" stroke-width="1.3" fill="#fff"/>
<rect x="594.65" y="452.65" width="6.4" height="6.4" rx="0" stroke="#222" stroke-width="1.3" fill="#fff"/>
<rect x="605.95" y="452.65" width="6.4" height="6.4" rx="0" stroke="#222" stroke-width="1.3" fill="#fff"/>
<rect x="617.25" y="452.65" width="6.4" height="6.4" rx="0" stroke="#222" stroke-width="1.3" fill="#fff"/>
<rect x="628.55" y="452.65" width="6.4" height="6.4" rx="0" stroke="#222" stroke-width="1.3" fill="#fff"/>
<rect x="639.85" y="452.65" width="6.4" height="6.4" rx="0" stroke="#222" stroke-width="1.3" fill="#fff"/>
<rect x="651.15" y="452.65" width="6.4" height="6.4" rx="0" stroke="#222" stroke-width="1.3" fill="#fff"/>
<rect x="662.45" y="452.65" width="6.4" height="6.4" rx="0" stroke="#222" stroke-width="1.3" fill="#fff"/>
<rect x="673.75" y="452.65" width="6.4" height="6.4" rx="0" stroke="#222" stroke-width="1.3" fill="#fff"/>
<rect x="685.05" y="452.65" width="6.4" height="6.4" rx="0" stroke="#222" stroke-width="1.3" fill="#fff"/>
<rect x="696.35" y="452.65" width="6.4" height="6.4" rx="0" stroke="#222" stroke-width="1.3" fill="#fff"/>
<rect x="594.65" y="463.95" width="6.4" height="6.4" rx="0" stroke="#222" stroke-width="1.3" fill="#fff"/>
<rect x="605.95" y="463.95" width="6.4" height="6.4" rx="0" stroke="#222" stroke-width="1.3" fill="#fff"/>
<rect x="617.25" y="463.95" width="6.4" height="6.4" rx="0" stroke="#222" stroke-width="1.3" fill="#fff"/>
<rect x="628.55" y="463.95" width="6.4" height="6.4" rx="0" stroke="#222" stroke-width="1.3" fill="#fff"/>
<rect x="639.85" y="463.95" width="6.4" height="6.4" rx="0" stroke="#222" stroke-width="1.3" fill="#fff"/>
<rect x="651.15" y="463.95" width="6.4" height="6.4" rx="0" stroke="#222" stroke-width="1.3" fill="#fff"/>
<rect x="662.45" y="463.95" width="6.4" height="6.4" rx="0" stroke="#222" stroke-width="1.3" fill="#fff"/>
<rect x="673.75" y="463.95" width="6.4" height="6.4" rx="0" stroke="#222" stroke-width="1.3" fill="#fff"/>
<rect x="685.05" y="463.95" width="6.4" height="6.4" rx="0" stroke="#222" stroke-width="1.3" fill="#fff"/>
<rect x="696.35" y="463.95" width="6.4" height="6.4" rx="0" stroke="#222" stroke-width="1.3" fill="#fff"/>
<rect x="594.65" y="475.25" width="6.4" height="6.4" rx="0" stroke="#222" stroke-width="1.3" fill="#fff"/>
<rect x="605.95" y="475.25" width="6.4" height="6.4" rx="0" stroke="#222" stroke-width="1.3" fill="#fff"/>
<rect x="617.25" y="475.25" width="6.4" height="6.4" rx="0" stroke="#222" stroke-width="1.3" fill="#fff"/>
<rect x="628.55" y="475.25" width="6.4" height="6.4" rx="0" stroke="#222" stroke-width="1.3" fill="#fff"/>
<rect x="639.85" y="475.25" width="6.4" height="6.4" rx="0" stroke="#222" stroke-width="1.3" fill="#fff"/>
<rect x="651.15" y="475.25" width="6.4" height="6.4" rx="0" stroke="#222" stroke-width="1.3" fill="#fff"/>
<rect x="662.45" y="475.25" width="6.4" height="6.4" rx="0" stroke="#222" stroke-width="1.3" fill="#fff"/>
<rect x="673.75" y="475.25" width="6.4" height="6.4" rx="0" stroke="#222" stroke-width="1.3" fill="#fff"/>
<rect x="685.05" y="475.25" width="6.4" height="6.4" rx="0" stroke="#222" stroke-width="1.3" fill="#fff"/>
<rect x="696.35" y="475.25" width="6.4" height="6.4" rx="0" stroke="#222" stroke-width="1.3" fill="#fff"/>
<rect x="605.95" y="486.55" width="6.4" height="6.4" rx="0" stroke="#222" stroke-width="1.3" fill="#fff"/>
<rect x="617.25" y="486.55" width="6.4" height="6.4" rx="0" stroke="#222" stroke-width="1.3" fill="#fff"/>
<rect x="628.55" y="486.55" width="6.4" height="6.4" rx="0" stroke="#222" stroke-width="1.3" fill="#fff"/>
<rect x="639.85" y="486.55" width="6.4" height="6.4" rx="0" stroke="#222" stroke-width="1.3" fill="#fff"/>
<rect x="651.15" y="486.55" width="6.4" height="6.4" rx="0" stroke="#222" stroke-width="1.3" fill="#fff"/>
<rect x="662.45" y="486.55" width="6.4" height="6.4" rx="0" stroke="#222" stroke-width="1.3" fill="#fff"/>
<rect x="673.75" y="486.55" width="6.4" height="6.4" rx="0" stroke="#222" stroke-width="1.3" fill="#fff"/>
<rect x="685.05" y="486.55" width="6.4" height="6.4" rx="0" stroke="#222" stroke-width="1.3" fill="#fff"/>
<rect x="605.95" y="497.85" width="6.4" height="6.4" rx="0" stroke="#222" stroke-width="1.3" fill="#fff"/>
<rect x="617.25" y="497.85" width="6.4" height="6.4" rx="0" stroke="#222" stroke-width="1.3" fill="#fff"/>
<rect x="628.55" y="497.85" width="6.4" height="6.4" rx="0" stroke="#222" stroke-width="1.3" fill="#fff"/>
<rect x="639.85" y="497.85" width="6.4" height="6.4" rx="0" stroke="#222" stroke-width="1.3" fill="#fff"/>
<rect x="651.15" y="497.85" width="6.4" height="6.4" rx="0" stroke="#222" stroke-width="1.3" fill="#fff"/>
<rect x="662.45" y="497.85" width="6.4" height="6.4" rx="0" stroke="#222" stroke-width="1.3" fill="#fff"/>
<rect x="673.75" y="497.85" width="6.4" height="6.4" rx="0" stroke="#222" stroke-width="1.3" fill="#fff"/>
<rect x="685.05" y="497.85" width="6.4" height="6.4" rx="0" stroke="#222" stroke-width="1.3" fill="#fff"/>
<rect x="628.55" y="509.15" width="6.4" height="6.4" rx="0" stroke="#222" stroke-width="1.3" fill="#fff"/>
<rect x="639.85" y="509.15" width="6.4" height="6.4" rx="0" stroke="#222" stroke-width="1.3" fill="#fff"/>
<rect x="651.15" y="509.15" width="6.4" height="6.4" rx="0" stroke="#222" stroke-width="1.3" fill="#fff"/>
<rect x="662.45" y="509.15" width="6.4" height="6.4" rx="0" stroke="#222" stroke-width="1.3" fill="#fff"/>
<rect x="819.85" y="407.45" width="6.4" height="6.4" rx="0" stroke="#222" stroke-width="1.3" fill="#fff"/>
<rect x="831.15" y="407.45" width="6.4" height="6.4" rx="0" stroke="#222" stroke-width="1.3" fill="#fff"/>
<rect x="842.45" y="407.45" width="6.4" height="6.4" rx="0" stroke="#222" stroke-width="1.3" fill="#fff"/>
<rect x="853.75" y="407.45" width="6.4" height="6.4" rx="0" stroke="#222" stroke-width="1.3" fill="#fff"/>
<rect x="797.25" y="418.75" width="6.4" height="6.4" rx="0" stroke="#222" stroke-width="1.3" fill="#fff"/>
<rect x="808.55" y="418.75" width="6.4" height="6.4" rx="0" stroke="#222" stroke-width="1.3" fill="#fff"/>
<rect x="819.85" y="418.75" width="6.4" height="6.4" rx="0" stroke="#222" stroke-width="1.3" fill="#fff"/>
<rect x="831.15" y="418.75" width="6.4" height="6.4" rx="0" stroke="#222" stroke-width="1.3" fill="#fff"/>
<rect x="853.75" y="418.75" width="6.4" height="6.4" rx="0" stroke="#222" stroke-width="1.3" fill="#fff"/>
<rect x="865.05" y="418.75" width="6.4" height="6.4" rx="0" stroke="#222" stroke-width="1.3" fill="#fff"/>
<rect x="876.35" y="418.75" width="6.4" height="6.4" rx="0" stroke="#222" stroke-width="1.3" fill="#fff"/>
<rect x="797.25" y="430.05" width="6.4" height="6.4" rx="0" stroke="#222" stroke-width="1.3" fill="#fff"/>
<rect x="808.55" y="430.05" width="6.4" height="6.4" rx="0" stroke="#222" stroke-width="1.3" fill="#fff"/>
<rect x="819.85" y="430.05" width="6.4" height="6.4" rx="0" stroke="#222" stroke-width="1.3" fill="#fff"/>
<rect x="865.05" y="430.05" width="6.4" height="6.4" rx="0" stroke="#222" stroke-width="1.3" fill="#fff"/>
<rect x="876.35" y="430.05" width="6.4" height="6.4" rx="0" stroke="#222" stroke-width="1.3" fill="#fff"/>
<rect x="785.95" y="441.35" width="6.4" height="6.4" rx="0" stroke="#222" stroke-width="1.3" fill="#fff"/>
<rect x="797.25" y="441.35" width="6.4" height="6.4" rx="0" stroke="#222" stroke-width="1.3" fill="#fff"/>
<rect x="808.55" y="441.35" width="6.4" height="6.4" rx="0" stroke="#222" stroke-width="1.3" fill="#fff"/>
<rect x="819.85" y="441.35" width="6.4" height="6.4" rx="0" stroke="#222" stroke-width="1.3" fill="#fff"/>
<rect x="831.15" y="441.35" width="6.4" height="6.4" rx="0" stroke="#222" stroke-width="1.3" fill="#fff"/>
<rect x="853.75" y="441.35" width="6.4" height="6.4" rx="0" stroke="#222" stroke-width="1.3" fill="#fff"/>
<rect x="865.05" y="441.35" width="6.4" height="6.4" rx="0" stroke="#222" stroke-width="1.3" fill="#fff"/>
<rect x="876.35" y="441.35" width="6.4" height="6.4" rx="0" stroke="#222" stroke-width="1.3" fill="#fff"/>
<rect x="887.65" y="441.35" width="6.4" height="6.4" rx="0" stroke="#222" stroke-width="1.3" fill="#fff"/>
<rect x="785.95" y="452.65" width="6.4" height="6.4" rx="0" stroke="#222" stroke-width="1.3" fill="#fff"/>
<rect x="797.25" y="452.65" width="6.4" height="6.4" rx="0" stroke="#222" stroke-width="1.3" fill="#fff"/>
<rect x="808.55" y="452.65" width="6.4" height="6.4" rx="0" stroke="#222" stroke-width="1.3" fill="#fff"/>
<rect x="819.85" y="452.65" width="6.4" height="6.4" rx="0" stroke="#222" stroke-width="1.3" fill="#fff"/>
<rect x="831.15" y="452.65" width="6.4" height="6.4" rx="0" stroke="#222" stroke-width="1.3" fill="#fff"/>
<rect x="842.45" y="452.65" width="6.4" height="6.4" rx="0" stroke="#222" stroke-width="1.3" fill="#fff"/>
<rect x="853.75" y="452.65" width="6.4" height="6.4" rx="0" stroke="#222" stroke-width="1.3" fill="#fff"/>
<rect x="865.05" y="452.65" width="6.4" height="6.4" rx="0" stroke="#222" stroke-width="1.3" fill="#fff"/>
<rect x="876.35" y="452.65" width="6.4" height="6.4" rx="0" stroke="#222" stroke-width="1.3" fill="#fff"/>
<rect x="887.65" y="452.65" width="6.4" height="6.4" rx="0" stroke="#222" stroke-width="1.3" fill="#fff"/>
<rect x="785.95" y="463.95" width="6.4" height="6.4" rx="0" stroke="#222" stroke-width="1.3" fill="#fff"/>
<rect x="797.25" y="463.95" width="6.4" height="6.4" rx="0" stroke="#222" stroke-width="1.3" fill="#fff"/>
<rect x="808.55" y="463.95" width="6.4" height="6.4" rx="0" stroke="#222" stroke-width="1.3" fill="#fff"/>
<rect x="819.85" y="463.95" width="6.4" height="6.4" rx="0" stroke="#222" stroke-width="1.3" fill="#fff"/>
<rect x="831.15" y="463.95" width="6.4" height="6.4" rx="0" stroke="#222" stroke-width="1.3" fill="#fff"/>
<rect x="842.45" y="463.95" width="6.4" height="6.4" rx="0" stroke="#222" stroke-width="1.3" fill="#fff"/>
<rect x="853.75" y="463.95" width="6.4" height="6.4" rx="0" stroke="#222" stroke-width="1.3" fill="#fff"/>
<rect x="865.05" y="463.95" width="6.4" height="6.4" rx="0" stroke="#222" stroke-width="1.3" fill="#fff"/>
<rect x="876.35" y="463.95" width="6.4" height="6.4" rx="0" stroke="#222" stroke-width="1.3" fill="#fff"/>
<rect x="887.65" y="463.95" width="6.4" height="6.4" rx="0" stroke="#222" stroke-width="1.3" fill="#fff"/>
<rect x="785.95" y="475.25" width="6.4" height="6.4" rx="0" stroke="#222" stroke-width="1.3" fill="#fff"/>
<rect x="797.25" y="475.25" width="6.4" height="6.4" rx="0" stroke="#222" stroke-width="1.3" fill="#fff"/>
<rect x="808.55" y="475.25" width="6.4" height="6.4" rx="0" stroke="#222" stroke-width="1.3" fill="#fff"/>
<rect x="819.85" y="475.25" width="6.4" height="6.4" rx="0" stroke="#222" stroke-width="1.3" fill="#fff"/>
<rect x="831.15" y="475.25" width="6.4" height="6.4" rx="0" stroke="#222" stroke-width="1.3" fill="#fff"/>
<rect x="842.45" y="475.25" width="6.4" height="6.4" rx="0" stroke="#222" stroke-width="1.3" fill="#fff"/>
<rect x="853.75" y="475.25" width="6.4" height="6.4" rx="0" stroke="#222" stroke-width="1.3" fill="#fff"/>
<rect x="865.05" y="475.25" width="6.4" height="6.4" rx="0" stroke="#222" stroke-width="1.3" fill="#fff"/>
<rect x="876.35" y="475.25" width="6.4" height="6.4" rx="0" stroke="#222" stroke-width="1.3" fill="#fff"/>
<rect x="887.65" y="475.25" width="6.4" height="6.4" rx="0" stroke="#222" stroke-width="1.3" fill="#fff"/>
<rect x="797.25" y="486.55" width="6.4" height="6.4" rx="0" stroke="#222" stroke-width="1.3" fill="#fff"/>
<rect x="808.55" y="486.55" width="6.4" height="6.4" rx="0" stroke="#222" stroke-width="1.3" fill="#fff"/>
<rect x="819.85" y="486.55" width="6.4" height="6.4" rx="0" stroke="#222" stroke-width="1.3" fill="#fff"/>
<rect x="831.15" y="486.55" width="6.4" height="6.4" rx="0" stroke="#222" stroke-width="1.3" fill="#fff"/>
<rect x="842.45" y="486.55" width="6.4" height="6.4" rx="0" stroke="#222" stroke-width="1.3" fill="#fff"/>
<rect x="853.75" y="486.55" width="6.4" height="6.4" rx="0" stroke="#222" stroke-width="1.3" fill="#fff"/>
<rect x="865.05" y="486.55" width="6.4" height="6.4" rx="0" stroke="#222" stroke-width="1.3" fill="#fff"/>
<rect x="876.35" y="486.55" width="6.4" height="6.4" rx="0" stroke="#222" stroke-width="1.3" fill="#fff"/>
<rect x="797.25" y="497.85" width="6.4" height="6.4" rx="0" stroke="#222" stroke-width="1.3" fill="#fff"/>
<rect x="808.55" y="497.85" width="6.4" height="6.4" rx="0" stroke="#222" stroke-width="1.3" fill="#fff"/>
<rect x="819.85" y="497.85" width="6.4" height="6.4" rx="0" stroke="#222" stroke-width="1.3" fill="#fff"/>
<rect x="831.15" y="497.85" width="6.4" height="6.4" rx="0" stroke="#222" stroke-width="1.3" fill="#fff"/>
<rect x="842.45" y="497.85" width="6.4" height="6.4" rx="0" stroke="#222" stroke-width="1.3" fill="#fff"/>
<rect x="853.75" y="497.85" width="6.4" height="6.4" rx="0" stroke="#222" stroke-width="1.3" fill="#fff"/>
<rect x="865.05" y="497.85" width="6.4" height="6.4" rx="0" stroke="#222" stroke-width="1.3" fill="#fff"/>
<rect x="876.35" y="497.85" width="6.4" height="6.4" rx="0" stroke="#222" stroke-width="1.3" fill="#fff"/>
<rect x="819.85" y="509.15" width="6.4" height="6.4" rx="0" stroke="#222" stroke-width="1.3" fill="#fff"/>
<rect x="831.15" y="509.15" width="6.4" height="6.4" rx="0" stroke="#222" stroke-width="1.3" fill="#fff"/>
<rect x="842.45" y="509.15" width="6.4" height="6.4" rx="0" stroke="#222" stroke-width="1.3" fill="#fff"/>
<rect x="853.75" y="509.15" width="6.4" height="6.4" rx="0" stroke="#222" stroke-width="1.3" fill="#fff"/>
<rect x="697.7" y="361.8" width="93.5" height="10.7" rx="2.5" stroke="#2a2a2a" stroke-width="1.2" fill="#fff"/>
<rect x="697.7" y="540" width="93.5" height="9.8" rx="2" stroke="#2a2a2a" stroke-width="1.2" fill="#fff"/>
<line x1="696" y1="360.8" x2="700" y2="360.8" stroke="#2a2a2a" stroke-width="1"/>
<path d="M734,372.5 L737.5,372.5 Q739.5,378.5 744.3,378.5 Q749,378.5 751,372.5 L755,372.5" stroke="#2a2a2a" stroke-width="1.2" fill="#fff"/>
<circle cx="744.3" cy="372.2" r="2.6" stroke="#2a2a2a" stroke-width="1.2" fill="#fff"/>
<path d="M728.6,371 L730.8,365 L733,371 Z" stroke="#2a2a2a" stroke-width="1.2" fill="#fff"/>
<path d="M728.6,548.3 L730.8,542.3 L733,548.3 Z" stroke="#2a2a2a" stroke-width="1.2" fill="#fff"/>
<circle cx="744.5" cy="537.5" r="3" stroke="#333" stroke-width="1.6" fill="#777"/>
<path d="M739,533 A7,7 0 0 0 739,542 M750,533 A7,7 0 0 1 750,542" stroke="#2a2a2a" stroke-width="1.1" fill="none" stroke-dasharray="4,2"/>
<line x1="744.5" y1="527" x2="744.5" y2="545" stroke="#2a2a2a" stroke-width="1"/>
<line x1="728.8" y1="338" x2="728.8" y2="351" stroke="#2a2a2a" stroke-width="1.2"/>
<polygon points="728.8,331 726.05,341.5 731.55,341.5" fill="#111"/>
<line x1="728.8" y1="563" x2="728.8" y2="577.5" stroke="#2a2a2a" stroke-width="1.2"/>
<polygon points="728.8,556.5 726.05,567.0 731.55,567.0" fill="#111"/>
<line x1="507.5" y1="360.7" x2="682" y2="360.7" stroke="#333" stroke-width="1.2"/>
<line x1="698" y1="360.7" x2="790" y2="360.7" stroke="#333" stroke-width="1.4"/>
<line x1="872.5" y1="355" x2="1000" y2="355" stroke="#333" stroke-width="1.4"/>
<line x1="632.5" y1="433.7" x2="959" y2="433.7" stroke="#333" stroke-width="1.8"/>
<line x1="733" y1="534.5" x2="959" y2="534.5" stroke="#333" stroke-width="1.2"/>
<line x1="538" y1="461.5" x2="597" y2="461.5" stroke="#747474" stroke-width="3"/>
<line x1="601" y1="461.5" x2="607" y2="461.5" stroke="#747474" stroke-width="3"/>
<line x1="611" y1="461.5" x2="635" y2="461.5" stroke="#747474" stroke-width="3"/>
<line x1="645" y1="461.5" x2="736" y2="461.5" stroke="#747474" stroke-width="3"/>
<line x1="752.5" y1="461.5" x2="847" y2="461.5" stroke="#747474" stroke-width="3"/>
<line x1="857" y1="461.5" x2="881" y2="461.5" stroke="#747474" stroke-width="3"/>
<line x1="890" y1="461.5" x2="1000" y2="461.5" stroke="#747474" stroke-width="3"/>
<line x1="507.5" y1="550.6" x2="772" y2="550.6" stroke="#333" stroke-width="2"/>
<line x1="648.7" y1="373.5" x2="648.7" y2="422.5" stroke="#444" stroke-width="2"/>
<line x1="648.7" y1="457.5" x2="648.7" y2="549" stroke="#444" stroke-width="2"/>
<rect x="646.9000000000001" y="375" width="3.6" height="4" rx="0" stroke="#333" stroke-width="1" fill="#555"/>
<line x1="840.0" y1="373.5" x2="840.0" y2="422.5" stroke="#444" stroke-width="2"/>
<line x1="840.0" y1="457.5" x2="840.0" y2="549" stroke="#444" stroke-width="2"/>
<rect x="838.2" y="375" width="3.6" height="4" rx="0" stroke="#333" stroke-width="1" fill="#555"/>
<circle cx="643.2" cy="433.7" r="2.9" stroke="#333" stroke-width="1.2" fill="#555"/>
<line x1="643.2" y1="422.4" x2="643.2" y2="443.6" stroke="#333" stroke-width="1.5"/>
<path d="M638.8000000000001,425.9 A8.8,8.8 0 0 0 634.4000000000001,433.7" stroke="#222" stroke-width="1.2" fill="none" stroke-dasharray="3.5,1.5"/>
<path d="M648.4000000000001,428.3 Q651.2,428.7 650.8000000000001,434.7 Q650.2,439.7 643.7,442.0" stroke="#222" stroke-width="1.2" fill="none" stroke-dasharray="4,1.5"/>
<polygon points="633.6,435.2 632.2,430.7 636.4000000000001,431.7" fill="#222"/>
<circle cx="845.3" cy="433.7" r="2.9" stroke="#333" stroke-width="1.2" fill="#555"/>
<line x1="845.3" y1="422.4" x2="845.3" y2="443.6" stroke="#333" stroke-width="1.5"/>
<path d="M840.9,425.9 A8.8,8.8 0 0 0 836.5,433.7" stroke="#222" stroke-width="1.2" fill="none" stroke-dasharray="3.5,1.5"/>
<path d="M850.5,428.3 Q853.3,428.7 852.9,434.7 Q852.3,439.7 845.8,442.0" stroke="#222" stroke-width="1.2" fill="none" stroke-dasharray="4,1.5"/>
<polygon points="835.6999999999999,435.2 834.3,430.7 838.5,431.7" fill="#222"/>
<line x1="568.7" y1="281" x2="568.7" y2="462" stroke="#333" stroke-width="1.2"/>
<line x1="919.2" y1="281" x2="919.2" y2="315" stroke="#444" stroke-width="1.6"/>
<line x1="919.2" y1="326" x2="919.2" y2="470" stroke="#444" stroke-width="1.6"/>
<line x1="569" y1="292.5" x2="919" y2="292.5" stroke="#444" stroke-width="1.6"/>
<polygon points="569.2,292.5 581.2,289.25 581.2,295.75" fill="#111"/>
<polygon points="918.8,292.5 906.8,289.25 906.8,295.75" fill="#111"/>
<text x="743.7" y="282.5" font-size="20" text-anchor="middle" letter-spacing="0.6" word-spacing="0" fill="#2a2a2a">390</text>
<text x="537.5" y="307" font-size="20" text-anchor="middle" letter-spacing="1.0" word-spacing="0" fill="#2a2a2a">III</text>
<path d="M519,312 L556,312 L649,377.5" stroke="#2a2a2a" stroke-width="1.1" fill="none"/>
<polygon points="649,377.5 639.5,374.5 643,369.5" fill="#111"/>
<text x="953" y="307" font-size="20" text-anchor="middle" letter-spacing="1.0" word-spacing="0" fill="#2a2a2a">III</text>
<path d="M970,312 L932.5,312 L841,376" stroke="#2a2a2a" stroke-width="1.1" fill="none"/>
<polygon points="841,376 847,368 850.5,373" fill="#111"/>
<text x="798" y="318" font-size="20" text-anchor="middle" letter-spacing="1.0" word-spacing="0" fill="#2a2a2a">II</text>
<path d="M790,321 L746,370.5" stroke="#2a2a2a" stroke-width="1.1" fill="none"/>
<polygon points="746,370.5 749.5,362.5 753.5,366" fill="#111"/>
<text x="798" y="605" font-size="20" text-anchor="middle" letter-spacing="1.0" word-spacing="0" fill="#2a2a2a">II</text>
<path d="M789,591.5 L746.5,542.5" stroke="#2a2a2a" stroke-width="1.1" fill="none"/>
<polygon points="746.5,542.5 754.5,546.5 750.5,550.5" fill="#111"/>
<line x1="518" y1="361" x2="518" y2="550" stroke="#2a2a2a" stroke-width="1.2"/>
<polygon points="518,361.2 515.0,372.2 521.0,372.2" fill="#111"/>
<polygon points="518,550 515.0,539 521.0,539" fill="#111"/>
<text x="510" y="456.5" font-size="20" text-anchor="middle" letter-spacing="0.6" word-spacing="0" fill="#2a2a2a" transform="rotate(-90 510 456.5)">280</text>
<line x1="550" y1="361" x2="550" y2="461" stroke="#2a2a2a" stroke-width="1.2"/>
<polygon points="550,361.2 547.0,372.2 553.0,372.2" fill="#111"/>
<polygon points="550,460.5 547.0,449.5 553.0,449.5" fill="#111"/>
<text x="545" y="413" font-size="20" text-anchor="middle" letter-spacing="0.6" word-spacing="0" fill="#2a2a2a" transform="rotate(-90 545 413)">155</text>
<line x1="951.3" y1="355" x2="951.3" y2="534.5" stroke="#2a2a2a" stroke-width="1.2"/>
<polygon points="951.3,355.5 948.3,366.5 954.3,366.5" fill="#111"/>
<polygon points="951.3,433 948.3,422 954.3,422" fill="#111"/>
<polygon points="951.3,462.5 948.3,473.5 954.3,473.5" fill="#111"/>
<polygon points="951.3,534 948.3,523 954.3,523" fill="#111"/>
<text x="947" y="400" font-size="20" text-anchor="middle" letter-spacing="0.6" word-spacing="0" fill="#2a2a2a" transform="rotate(-90 947 400)">50</text>
<text x="947" y="502.5" font-size="20" text-anchor="middle" letter-spacing="0.6" word-spacing="0" fill="#2a2a2a" transform="rotate(-90 947 502.5)">107</text>
<line x1="990" y1="355" x2="990" y2="461" stroke="#2a2a2a" stroke-width="1.2"/>
<polygon points="990,355.5 987.0,366.5 993.0,366.5" fill="#111"/>
<polygon points="990,460.5 987.0,449.5 993.0,449.5" fill="#111"/>
<text x="978" y="407.5" font-size="20" text-anchor="middle" letter-spacing="0.6" word-spacing="0" fill="#2a2a2a" transform="rotate(-90 978 407.5)">128</text>
</g>
<g id="feet">
<line x1="142.4" y1="747" x2="196.8" y2="747" stroke="#222" stroke-width="1.2" stroke-dasharray="6,3.5"/>
<line x1="142.4" y1="655.5" x2="142.4" y2="747" stroke="#222" stroke-width="1.2" stroke-dasharray="6,3.5"/>
<line x1="146" y1="655.5" x2="196.8" y2="655.5" stroke="#555" stroke-width="2.2" stroke-dasharray="6,3.5"/>
<line x1="196.8" y1="655.5" x2="196.8" y2="747" stroke="#555" stroke-width="2.2" stroke-dasharray="6,3.5"/>
<line x1="152.6" y1="693.4" x2="196.8" y2="693.4" stroke="#555" stroke-width="2.2" stroke-dasharray="6,3.5"/>
<line x1="152.6" y1="655.5" x2="152.6" y2="693.4" stroke="#555" stroke-width="2.2" stroke-dasharray="6,3.5"/>
<line x1="142.4" y1="708.2" x2="184.6" y2="708.2" stroke="#333" stroke-width="1.6" stroke-dasharray="6,3.5"/>
<line x1="184.6" y1="708.2" x2="184.6" y2="747" stroke="#222" stroke-width="1.2" stroke-dasharray="6,3.5"/>
<circle cx="166.3" cy="674.5" r="7.8" stroke="#2a2a2a" stroke-width="1.3" fill="none"/>
<circle cx="166.3" cy="726.7" r="16.6" stroke="#2a2a2a" stroke-width="1.3" fill="none"/>
<circle cx="166.3" cy="726.7" r="7.8" stroke="#2a2a2a" stroke-width="1.3" fill="none"/>
<line x1="338.6" y1="747" x2="397.6" y2="747" stroke="#222" stroke-width="1.2" stroke-dasharray="6,3.5"/>
<line x1="338.6" y1="655.5" x2="338.6" y2="747" stroke="#222" stroke-width="1.2" stroke-dasharray="6,3.5"/>
<line x1="345" y1="655.5" x2="397.6" y2="655.5" stroke="#555" stroke-width="2.2" stroke-dasharray="6,3.5"/>
<line x1="397.6" y1="655.5" x2="397.6" y2="747" stroke="#555" stroke-width="2.2" stroke-dasharray="6,3.5"/>
<line x1="349.4" y1="693.4" x2="397.6" y2="693.4" stroke="#555" stroke-width="2.2" stroke-dasharray="6,3.5"/>
<line x1="349.4" y1="655.5" x2="349.4" y2="693.4" stroke="#555" stroke-width="2.2" stroke-dasharray="6,3.5"/>
<line x1="338.6" y1="708.2" x2="387.6" y2="708.2" stroke="#333" stroke-width="1.6" stroke-dasharray="6,3.5"/>
<line x1="387.6" y1="708.2" x2="387.6" y2="747" stroke="#222" stroke-width="1.2" stroke-dasharray="6,3.5"/>
<circle cx="368" cy="674.5" r="7.8" stroke="#2a2a2a" stroke-width="1.3" fill="none"/>
<circle cx="368" cy="726.7" r="16.6" stroke="#2a2a2a" stroke-width="1.3" fill="none"/>
<circle cx="368" cy="726.7" r="7.8" stroke="#2a2a2a" stroke-width="1.3" fill="none"/>
<line x1="235" y1="854.6" x2="235" y2="942.7" stroke="#555" stroke-width="2.2" stroke-dasharray="6,3.5"/>
<line x1="235" y1="854.6" x2="300" y2="854.6" stroke="#222" stroke-width="2" stroke-dasharray="6,3.5"/>
<line x1="235" y1="942.7" x2="300" y2="942.7" stroke="#333" stroke-width="1.2" stroke-dasharray="6,3.5"/>
<line x1="300" y1="854.6" x2="300" y2="942.7" stroke="#333" stroke-width="1.2" stroke-dasharray="6,3.5"/>
<line x1="248.6" y1="890.7" x2="300" y2="890.7" stroke="#333" stroke-width="1.2" stroke-dasharray="6,3.5"/>
<line x1="248.6" y1="854.6" x2="248.6" y2="890.7" stroke="#333" stroke-width="1.2" stroke-dasharray="6,3.5"/>
<line x1="235" y1="908.5" x2="285" y2="908.5" stroke="#333" stroke-width="1.4" stroke-dasharray="6,3.5"/>
<line x1="285" y1="908.5" x2="285" y2="942.7" stroke="#333" stroke-width="1.2" stroke-dasharray="6,3.5"/>
<circle cx="267.2" cy="874" r="14.6" stroke="#2a2a2a" stroke-width="1.3" fill="none"/>
<circle cx="267.2" cy="874" r="6.3" stroke="#2a2a2a" stroke-width="1.3" fill="none"/>
<circle cx="267.2" cy="925.8" r="7.9" stroke="#2a2a2a" stroke-width="1.3" fill="none"/>
<line x1="166.5" y1="628" x2="166.5" y2="694" stroke="#666" stroke-width="2"/>
<line x1="166.5" y1="700" x2="166.5" y2="759" stroke="#666" stroke-width="2"/>
<line x1="367.5" y1="628" x2="367.5" y2="755" stroke="#666" stroke-width="2"/>
<line x1="167" y1="634.6" x2="367" y2="634.6" stroke="#333" stroke-width="1.3"/>
<polygon points="167.5,634.6 181.5,630.6 181.5,638.6" fill="#111"/>
<polygon points="366.8,634.6 352.8,630.6 352.8,638.6" fill="#111"/>
<text x="292.5" y="626.5" font-size="20" text-anchor="middle" letter-spacing="0.6" word-spacing="0" fill="#2a2a2a">228</text>
<line x1="148" y1="674.4" x2="232.4" y2="674.4" stroke="#666" stroke-width="2"/>
<line x1="345.6" y1="674.4" x2="370" y2="674.4" stroke="#555" stroke-width="2"/>
<line x1="372" y1="674.4" x2="394" y2="674.4" stroke="#555" stroke-width="1.6" stroke-dasharray="5,4"/>
<line x1="226.4" y1="675" x2="226.4" y2="726" stroke="#444" stroke-width="1.8"/>
<polygon points="226.4,675.2 223.4,685.7 229.4,685.7" fill="#111"/>
<polygon points="226.4,726 223.4,715.5 229.4,715.5" fill="#111"/>
<text x="221" y="699.4" font-size="20" text-anchor="middle" letter-spacing="0.6" word-spacing="0" fill="#2a2a2a" transform="rotate(-90 221 699.4)">50</text>
<line x1="120" y1="726.7" x2="125" y2="726.7" stroke="#333" stroke-width="1.6"/>
<line x1="129" y1="726.7" x2="134" y2="726.7" stroke="#333" stroke-width="1.6"/>
<line x1="196" y1="726.7" x2="338" y2="726.7" stroke="#333" stroke-width="1.6" stroke-dasharray="4,7,26,8"/>
<line x1="138" y1="726.7" x2="189" y2="726.7" stroke="#222" stroke-width="2"/>
<line x1="339" y1="726.7" x2="366" y2="726.7" stroke="#222" stroke-width="2"/>
<line x1="130.6" y1="727" x2="130.6" y2="873" stroke="#333" stroke-width="1.6"/>
<polygon points="130.6,727.3 127.6,737.8 133.6,737.8" fill="#111"/>
<polygon points="130.6,790.5 127.6,780.0 133.6,780.0" fill="#111"/>
<polygon points="130.6,792 127.6,802.5 133.6,802.5" fill="#111"/>
<polygon points="130.6,873 127.6,862.5 133.6,862.5" fill="#111"/>
<text x="124" y="759" font-size="20" text-anchor="middle" letter-spacing="0.6" word-spacing="0" fill="#2a2a2a" transform="rotate(-90 124 759)">50</text>
<text x="124" y="831.6" font-size="20" text-anchor="middle" letter-spacing="0.6" word-spacing="0" fill="#2a2a2a" transform="rotate(-90 124 831.6)">107</text>
<line x1="120" y1="791" x2="146" y2="791" stroke="#333" stroke-width="1.6"/>
<line x1="162" y1="791" x2="366" y2="791" stroke="#333" stroke-width="1.6" stroke-dasharray="27,7,4,7"/>
<line x1="267.2" y1="700" x2="267.2" y2="857" stroke="#333" stroke-width="1.2" stroke-dasharray="32,5,3,5"/>
<line x1="267.2" y1="857" x2="267.2" y2="893" stroke="#333" stroke-width="1.2"/>
<line x1="267.2" y1="899" x2="267.2" y2="950.5" stroke="#333" stroke-width="1.2"/>
<line x1="119" y1="874" x2="295.5" y2="874" stroke="#222" stroke-width="1.8"/>
<line x1="215.4" y1="874" x2="215.4" y2="926" stroke="#333" stroke-width="1.6"/>
<polygon points="215.4,874.2 212.4,884.7 218.4,884.7" fill="#111"/>
<polygon points="215.4,925.8 212.4,915.3 218.4,915.3" fill="#111"/>
<text x="210" y="897" font-size="20" text-anchor="middle" letter-spacing="0.6" word-spacing="0" fill="#2a2a2a" transform="rotate(-90 210 897)">50</text>
<line x1="204" y1="925.8" x2="278.5" y2="925.8" stroke="#333" stroke-width="1.6"/>
<line x1="285" y1="925.8" x2="290" y2="925.8" stroke="#444" stroke-width="1.4"/>
<line x1="295" y1="925.8" x2="297" y2="925.8" stroke="#444" stroke-width="1.4"/>
<line x1="332.4" y1="863.4" x2="332.4" y2="976.5" stroke="#333" stroke-width="1.3"/>
<polygon points="332.4,917.7 329.65,907.2 335.15,907.2" fill="#111"/>
<polygon points="332.4,934.3 329.65,944.8 335.15,944.8" fill="#111"/>
<line x1="270.7" y1="918.4" x2="341" y2="918.4" stroke="#333" stroke-width="2"/>
<line x1="265" y1="933.4" x2="341" y2="933.4" stroke="#333" stroke-width="2"/>
<text x="327" y="881" font-size="20" text-anchor="middle" letter-spacing="0.6" word-spacing="-3.2" fill="#2a2a2a" transform="rotate(-90 327 881)">Ø18</text>
</g>
<g id="flange">
<circle cx="744.4" cy="790.6" r="45.5" stroke="#2a2a2a" stroke-width="1.3" fill="none"/>
<circle cx="744.4" cy="790.6" r="27.3" stroke="#2a2a2a" stroke-width="1.3" fill="none"/>
<circle cx="744.4" cy="790.6" r="14" stroke="#2a2a2a" stroke-width="1.5" fill="none"/>
<circle cx="744.4" cy="790.6" r="34.6" stroke="#333" stroke-width="1.1" fill="none" stroke-dasharray="9,3,2,3"/>
<circle cx="720.0" cy="766.2" r="5.2" stroke="#2a2a2a" stroke-width="1.3" fill="none"/>
<line x1="717.0" y1="769.2" x2="723.0" y2="763.2" stroke="#2a2a2a" stroke-width="0.9"/>
<circle cx="720.0" cy="815.0" r="5.2" stroke="#2a2a2a" stroke-width="1.3" fill="none"/>
<line x1="717.0" y1="818.0" x2="723.0" y2="812.0" stroke="#2a2a2a" stroke-width="0.9"/>
<circle cx="768.8" cy="766.2" r="5.2" stroke="#2a2a2a" stroke-width="1.3" fill="none"/>
<line x1="765.8" y1="769.2" x2="771.8" y2="763.2" stroke="#2a2a2a" stroke-width="0.9"/>
<circle cx="768.8" cy="815.0" r="5.2" stroke="#2a2a2a" stroke-width="1.3" fill="none"/>
<line x1="765.8" y1="818.0" x2="771.8" y2="812.0" stroke="#2a2a2a" stroke-width="0.9"/>
<line x1="695" y1="790.6" x2="794" y2="790.6" stroke="#333" stroke-width="1.3" stroke-dasharray="10,3,2,3"/>
<line x1="744.4" y1="742" x2="744.4" y2="842" stroke="#333" stroke-width="1.2" stroke-dasharray="10,3,2,3"/>
<line x1="693" y1="720.4" x2="730" y2="720.4" stroke="#7a7a7a" stroke-width="2.4"/>
<line x1="758" y1="720.4" x2="905" y2="720.4" stroke="#7a7a7a" stroke-width="2.4"/>
<polygon points="730,720.4 717,716.9 717,723.9" fill="#111"/>
<polygon points="758,720.4 771,716.9 771,723.9" fill="#111"/>
<line x1="730.3" y1="717" x2="730.3" y2="790" stroke="#787878" stroke-width="2.4"/>
<line x1="758" y1="717" x2="758" y2="790" stroke="#222" stroke-width="2"/>
<text x="828" y="713" font-size="20" text-anchor="middle" letter-spacing="0.4" word-spacing="-1.5" fill="#2a2a2a">DN 50</text>
<line x1="659.4" y1="724" x2="659.4" y2="935" stroke="#808080" stroke-width="2.4"/>
<polygon points="659.3,761 656.3,750 662.3,750" fill="#111"/>
<polygon points="659.3,771.8 656.3,782.8 662.3,782.8" fill="#111"/>
<line x1="650.4" y1="761" x2="719" y2="761" stroke="#4a4a4a" stroke-width="2"/>
<line x1="650.4" y1="771.6" x2="719" y2="771.6" stroke="#4a4a4a" stroke-width="2"/>
<text x="653" y="900" font-size="20" text-anchor="middle" letter-spacing="0.3" word-spacing="-3.0" fill="#2a2a2a" transform="rotate(-90 653 900)">4 x Ø 19</text>
<line x1="699" y1="790" x2="699" y2="962" stroke="#444" stroke-width="1.2"/>
<line x1="790" y1="790" x2="790" y2="962" stroke="#444" stroke-width="1.2"/>
<line x1="709.4" y1="790" x2="709.4" y2="918.5" stroke="#666" stroke-width="2.2"/>
<line x1="778.2" y1="790" x2="778.2" y2="918.5" stroke="#444" stroke-width="1.2"/>
<line x1="717.3" y1="790" x2="717.3" y2="878.6" stroke="#666" stroke-width="2"/>
<line x1="771.5" y1="790" x2="771.5" y2="878.6" stroke="#555" stroke-width="1.2"/>
<line x1="717.5" y1="873" x2="771.5" y2="873" stroke="#333" stroke-width="1.3"/>
<polygon points="717.5,873 729.5,869.75 729.5,876.25" fill="#111"/>
<polygon points="771.3,873 759.3,869.75 759.3,876.25" fill="#111"/>
<text x="743" y="866.5" font-size="20" text-anchor="middle" letter-spacing="0.6" word-spacing="-3.2" fill="#2a2a2a">Ø 99</text>
<line x1="709.5" y1="913" x2="778" y2="913" stroke="#333" stroke-width="1.3"/>
<polygon points="709.5,913 721.5,909.75 721.5,916.25" fill="#111"/>
<polygon points="778,913 766,909.75 766,916.25" fill="#111"/>
<text x="743.5" y="905.5" font-size="20" text-anchor="middle" letter-spacing="0.6" word-spacing="-3.2" fill="#2a2a2a">Ø 125</text>
<line x1="699" y1="955" x2="790" y2="955" stroke="#333" stroke-width="1.3"/>
<polygon points="699,955 712,951.5 712,958.5" fill="#111"/>
<polygon points="790,955 777,951.5 777,958.5" fill="#111"/>
<text x="743.5" y="947.5" font-size="20" text-anchor="middle" letter-spacing="0.6" word-spacing="-3.2" fill="#2a2a2a">Ø 165</text>
</g>
</svg>
</body></html>
